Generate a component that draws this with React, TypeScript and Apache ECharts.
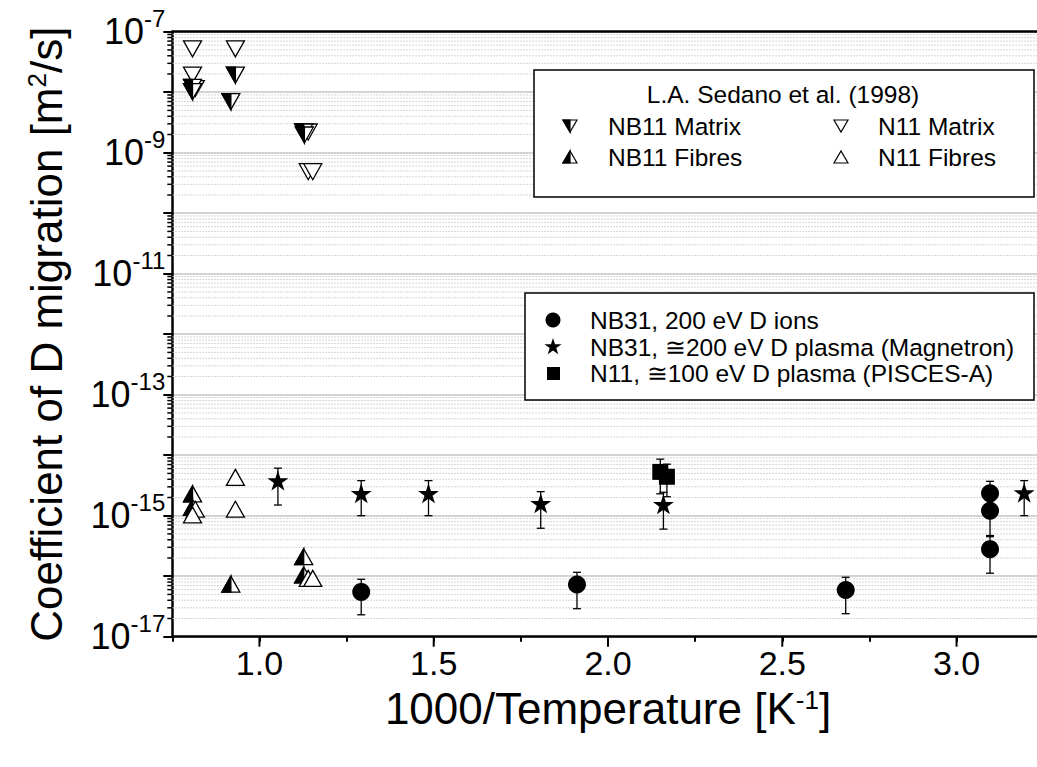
import React, { useEffect, useRef } from "react";
import * as echarts from "echarts";

// ---------- axis setup ----------
const X_MIN = 0.75;
const X_MAX = 3.25;
const xMajorTicks = [1.0, 1.5, 2.0, 2.5, 3.0];
const Y_MIN = 1e-17;
const Y_MAX = 1e-7;
const yDecadeExponents = [-17, -16, -15, -14, -13, -12, -11, -10, -9, -8];
const yMinorMultipliers = [2, 3, 4, 5, 6, 7, 8, 9];

// ---------- data: [1000/T, D] ----------
// L.A. Sedano et al. (1998)
const nb11Matrix: number[][] = [
  [0.931, 1.92e-8],
  [0.808, 1.2e-8],
  [0.808, 1.02e-8],
  [0.918, 7.0e-9],
  [1.127, 2.2e-9],
  [1.129, 1.96e-9],
];
const n11Matrix: number[][] = [
  [0.808, 5.2e-8],
  [0.931, 5.2e-8],
  [0.808, 1.92e-8],
  [0.816, 1.15e-8],
  [1.14, 2.2e-9],
  [1.14, 4.85e-10],
  [1.153, 4.85e-10],
];
const nb11Fibres: number[][] = [
  [0.808, 2.29e-15],
  [0.808, 1.38e-15],
  [0.918, 7.4e-17],
  [1.127, 2.1e-16],
  [1.127, 1.05e-16],
];
const n11Fibres: number[][] = [
  [0.816, 1.28e-15],
  [0.808, 1.03e-15],
  [0.931, 4.3e-15],
  [0.931, 1.28e-15],
  [1.14, 9.2e-17],
  [1.153, 9.2e-17],
];
// [x, y, errLow, errHigh]
const nb31Ions: number[][] = [
  [1.292, 5.5e-17, 2.3e-17, 8.9e-17],
  [1.911, 7.3e-17, 2.9e-17, 1.16e-16],
  [2.682, 5.9e-17, 2.4e-17, 9.6e-17],
  [3.096, 2.34e-15, 1.5e-15, 3.7e-15],
  [3.096, 1.21e-15, 4.7e-16, 2.0e-15],
  [3.096, 2.8e-16, 1.12e-16, 4.5e-16],
];
const nb31Magnetron: number[][] = [
  [1.053, 3.8e-15, 1.5e-15, 6.1e-15],
  [1.292, 2.34e-15, 1.0e-15, 3.8e-15],
  [1.485, 2.34e-15, 1.0e-15, 3.8e-15],
  [1.807, 1.6e-15, 6.2e-16, 2.5e-15],
  [2.159, 1.54e-15, 6.0e-16, 2.44e-15],
  [3.194, 2.4e-15, 1.0e-15, 3.8e-15],
];
const n11Pisces: number[][] = [
  [2.15, 5.3e-15, 2.3e-15, 8.6e-15],
  [2.169, 4.4e-15, 2.06e-15, 7.1e-15],
];

const legend1Title = "L.A. Sedano et al. (1998)";
const legend1Labels = ["NB11 Matrix", "N11 Matrix", "NB11 Fibres", "N11 Fibres"];
const legend2Labels = [
  "NB31, 200 eV D ions",
  "NB31, \u2245200 eV D plasma (Magnetron)",
  "N11, \u2245100 eV D plasma (PISCES-A)",
];

const FONT = "'Liberation Sans', Arial, Helvetica, sans-serif";
const STAR_PATH =
  "path://M50,0 L61.23,34.55 L97.55,34.55 L68.17,55.9 L79.39,90.45 L50,69.1 L20.61,90.45 L31.83,55.9 L2.45,34.55 L38.77,34.55 Z";

function triShapes(cx: number, cy: number, w: number, h: number, dir: "up" | "down", half: boolean, lw: number) {
  const top = cy - h / 2;
  const bot = cy + h / 2;
  const left = cx - w / 2;
  const right = cx + w / 2;
  const full =
    dir === "down"
      ? [[left, top], [right, top], [cx, bot]]
      : [[left, bot], [right, bot], [cx, top]];
  const halfPts =
    dir === "down"
      ? [[left, top], [cx, top], [cx, bot]]
      : [[left, bot], [cx, bot], [cx, top]];
  const out: any[] = [
    { type: "polygon", shape: { points: full }, style: { fill: "#fff", stroke: "#000", lineWidth: lw } },
  ];
  if (half) {
    out.push({ type: "polygon", shape: { points: halfPts }, style: { fill: "#000", stroke: "#000", lineWidth: lw } });
  }
  return out;
}

function starPoints(cx: number, cy: number, R: number) {
  const pts: number[][] = [];
  const r = R * 0.382;
  for (let i = 0; i < 10; i++) {
    const a = (-90 + i * 36) * (Math.PI / 180);
    const rad = i % 2 === 0 ? R : r;
    pts.push([cx + rad * Math.cos(a), cy + rad * Math.sin(a)]);
  }
  return pts;
}

function triSeries(data: number[][], dir: "up" | "down", half: boolean, z: number) {
  return {
    type: "custom",
    clip: false,
    z,
    silent: true,
    data,
    renderItem: (params: any, api: any) => {
      const p = api.coord([api.value(0), api.value(1)]);
      return { type: "group", children: triShapes(p[0], p[1], 18, 16, dir, half, 1.3) };
    },
  };
}

function errSeries(data: number[][], z: number) {
  return {
    type: "custom",
    clip: false,
    z,
    silent: true,
    data,
    renderItem: (params: any, api: any) => {
      const x = api.value(0);
      const pLo = api.coord([x, api.value(2)]);
      const pHi = api.coord([x, api.value(3)]);
      const c = 4;
      const st = { stroke: "#000", lineWidth: 1.3 };
      return {
        type: "group",
        children: [
          { type: "line", shape: { x1: pLo[0], y1: pLo[1], x2: pHi[0], y2: pHi[1] }, style: st },
          { type: "line", shape: { x1: pLo[0] - c, y1: pLo[1], x2: pLo[0] + c, y2: pLo[1] }, style: st },
          { type: "line", shape: { x1: pHi[0] - c, y1: pHi[1], x2: pHi[0] + c, y2: pHi[1] }, style: st },
        ],
      };
    },
  };
}

const titleRich = {
  n: { fontSize: 44, lineHeight: 44, verticalAlign: "bottom", fontFamily: FONT, color: "#000" },
  s: { fontSize: 26, lineHeight: 26, padding: [0, 0, 22, 0], verticalAlign: "top", fontFamily: FONT, color: "#000" },
};

export default function App() {
  const ref = useRef<HTMLDivElement>(null);

  useEffect(() => {
    if (!ref.current) return;
    const chart = echarts.init(ref.current, undefined, { renderer: "svg" });

    const yMinorValues: number[][] = [];
    yDecadeExponents.forEach((e) => {
      yMinorMultipliers.forEach((m) => yMinorValues.push([X_MIN, m * Math.pow(10, e)]));
    });
    const xMajorData = xMajorTicks.map((v) => [v, Y_MIN]);

    // legend graphics
    const L1 = { x: 534, y: 70, w: 500, h: 127 };
    const L2 = { x: 525, y: 293, w: 509, h: 107 };
    const textStyle = (txt: string, x: number, y: number, align = "left") => ({
      type: "text",
      x,
      y,
      style: { text: txt, fontSize: 24.5, fontFamily: FONT, fill: "#000", align, verticalAlign: "middle" },
      z: 101,
    });
    const legendGraphic: any[] = [
      { type: "rect", shape: { x: L1.x, y: L1.y, width: L1.w, height: L1.h }, style: { fill: "#fff", stroke: "#000", lineWidth: 1.5 }, z: 100 },
      textStyle(legend1Title, 783, 94, "center"),
      ...triShapes(570, 126, 14, 12, "down", true, 1.2).map((s) => ({ ...s, z: 101 })),
      textStyle(legend1Labels[0], 608, 126),
      ...triShapes(841, 126, 14, 12, "down", false, 1.2).map((s) => ({ ...s, z: 101 })),
      textStyle(legend1Labels[1], 878, 126),
      ...triShapes(570, 157, 14, 12, "up", true, 1.2).map((s) => ({ ...s, z: 101 })),
      textStyle(legend1Labels[2], 608, 157),
      ...triShapes(841, 157, 14, 12, "up", false, 1.2).map((s) => ({ ...s, z: 101 })),
      textStyle(legend1Labels[3], 878, 157),
      { type: "rect", shape: { x: L2.x, y: L2.y, width: L2.w, height: L2.h }, style: { fill: "#fff", stroke: "#000", lineWidth: 1.5 }, z: 100 },
      { type: "circle", shape: { cx: 553, cy: 320, r: 7.5 }, style: { fill: "#000" }, z: 101 },
      textStyle(legend2Labels[0], 590, 320),
      { type: "polygon", shape: { points: starPoints(553, 347, 9) }, style: { fill: "#000" }, z: 101 },
      textStyle(legend2Labels[1], 590, 347),
      { type: "rect", shape: { x: 547, y: 367, width: 13, height: 13 }, style: { fill: "#000" }, z: 101 },
      textStyle(legend2Labels[2], 590, 373),
    ];

    const option: any = {
      animation: false,
      backgroundColor: "#fff",
      textStyle: { fontFamily: FONT },
      grid: { left: 172.3, top: 31.7, right: 16.3, bottom: 130.3, containLabel: false },
      xAxis: [
        {
          type: "value",
          min: X_MIN,
          max: X_MAX,
          interval: 0.25,
          name: "{n|1000/Temperature [K}{s|-1}{n|]}",
          nameLocation: "middle",
          nameGap: 50,
          nameMoveOverlap: false,
          nameTextStyle: { color: "#000", fontFamily: FONT, rich: titleRich },
          axisLine: { show: true, onZero: false, lineStyle: { color: "#000", width: 2.5 } },
          axisTick: { show: true, length: 5, inside: false, lineStyle: { color: "#000", width: 2 } },
          axisLabel: {
            show: true,
            margin: 12,
            fontSize: 34,
            lineHeight: 28,
            color: "#000",
            fontFamily: FONT,
            formatter: (v: number) => (Math.abs(v * 2 - Math.round(v * 2)) < 1e-6 ? v.toFixed(1) : ""),
          },
          splitLine: { show: false },
        },
        {
          type: "value",
          min: X_MIN,
          max: X_MAX,
          interval: 0.25,
          position: "top",
          axisLine: { show: true, onZero: false, lineStyle: { color: "#000", width: 2.5 } },
          axisTick: { show: false },
          axisLabel: { show: false },
          splitLine: { show: false },
        },
      ],
      yAxis: {
        type: "log",
        logBase: 10,
        min: Y_MIN,
        max: Y_MAX,
        interval: 1,
        splitNumber: 10,
        name: "{n|Coefficient of D migration [m}{s|2}{n|/s]}",
        nameLocation: "middle",
        nameGap: 104,
        nameMoveOverlap: false,
        nameTextStyle: { color: "#000", fontFamily: FONT, rich: titleRich },
        axisLine: { show: true, onZero: false, lineStyle: { color: "#000", width: 2.5 } },
        axisTick: { show: true, length: 9, lineStyle: { color: "#000", width: 2 } },
        axisLabel: {
          show: true,
          margin: 7,
          color: "#000",
          fontFamily: FONT,
          formatter: (v: number) => {
            const e = Math.round(Math.log10(v));
            if (e % 2 === 0) return "";
            return `{b|10}{s|${e}}`;
          },
          rich: {
            b: { fontSize: 36, lineHeight: 50, fontFamily: FONT, color: "#000" },
            s: { fontSize: 24, lineHeight: 24, verticalAlign: "top", fontFamily: FONT, color: "#000" },
          },
        },
        splitLine: { show: true, lineStyle: { color: "#c4c4c4", width: 1.5 } },
      },
      graphic: legendGraphic,
      series: [
        {
          type: "custom",
          clip: false,
          silent: true,
          z: 1,
          data: yMinorValues,
          renderItem: (params: any, api: any) => {
            const cs = params.coordSys;
            const p = api.coord([X_MIN, api.value(1)]);
            return {
              type: "group",
              children: [
                { type: "line", shape: { x1: cs.x, y1: p[1], x2: cs.x + cs.width, y2: p[1] }, style: { stroke: "#c8c8c8", lineWidth: 1, lineDash: [1.5, 1.5] } },
                { type: "line", shape: { x1: cs.x - 5, y1: p[1], x2: cs.x, y2: p[1] }, style: { stroke: "#000", lineWidth: 1.5 } },
              ],
            };
          },
        },
        {
          type: "custom",
          clip: false,
          silent: true,
          z: 1,
          data: xMajorData,
          renderItem: (params: any, api: any) => {
            const p = api.coord([api.value(0), Y_MIN]);
            return { type: "line", shape: { x1: p[0], y1: p[1], x2: p[0], y2: p[1] + 10 }, style: { stroke: "#000", lineWidth: 2 } };
          },
        },
        triSeries(n11Matrix, "down", false, 3),
        triSeries(nb11Matrix, "down", true, 4),
        triSeries(nb11Fibres, "up", true, 3),
        triSeries(n11Fibres, "up", false, 4),
        errSeries(nb31Ions, 3),
        errSeries(nb31Magnetron, 3),
        errSeries(n11Pisces, 3),
        {
          type: "scatter",
          z: 5,
          symbol: "circle",
          symbolSize: 18,
          itemStyle: { color: "#000", opacity: 1 },
          data: nb31Ions.map((d) => [d[0], d[1]]),
        },
        {
          type: "scatter",
          z: 5,
          symbol: STAR_PATH,
          symbolSize: [21, 20],
          itemStyle: { color: "#000", opacity: 1 },
          data: nb31Magnetron.map((d) => [d[0], d[1]]),
        },
        {
          type: "scatter",
          z: 5,
          symbol: "rect",
          symbolSize: 16,
          itemStyle: { color: "#000", opacity: 1 },
          data: n11Pisces.map((d) => [d[0], d[1]]),
        },
      ],
    };

    chart.setOption(option);
    return () => chart.dispose();
  }, []);

  return (
    <div style={{ position: "fixed", left: 0, top: 0, width: 1037, height: 767, overflow: "hidden", background: "#fff" }}>
      <div ref={ref} style={{ width: 1060, height: 767 }} />
    </div>
  );
}
